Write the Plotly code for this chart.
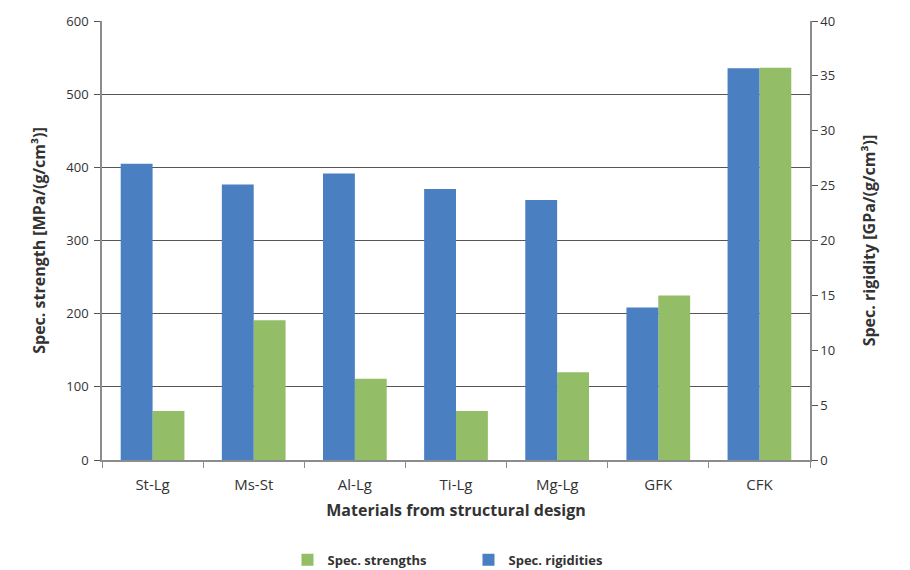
import plotly.graph_objects as go

categories = ["St-Lg", "Ms-St", "Al-Lg", "Ti-Lg", "Mg-Lg", "GFK", "CFK"]
spec_strengths = [67, 191, 111, 67, 120, 225, 536]      # MPa/(g/cm³), left axis
spec_rigidities = [27.0, 25.1, 26.1, 24.7, 23.7, 13.9, 35.7]  # GPa/(g/cm³), right axis

FONT = "Open Sans"
TXT = "#333333"
AX = "#8c8c8c"

fig = go.Figure()
fig.add_trace(go.Bar(
    x=categories, y=spec_rigidities, name="<b>Spec. rigidities</b>",
    marker=dict(color="#4A7FC1", line=dict(width=0)),
    yaxis="y2", offsetgroup="b", legendrank=2,
))
fig.add_trace(go.Bar(
    x=categories, y=spec_strengths, name="<b>Spec. strengths</b>",
    marker=dict(color="#93BE67", line=dict(width=0)),
    yaxis="y", offsetgroup="g", legendrank=1,
))

fig.update_layout(
    width=910, height=570,
    margin=dict(l=102, r=100, t=21, b=110, autoexpand=False),
    paper_bgcolor="white", plot_bgcolor="white",
    barmode="group", bargap=0.37, bargroupgap=0,
    font=dict(family=FONT, color=TXT, size=13),
    xaxis=dict(
        showline=True, linecolor=AX, linewidth=1.5,
        ticks="outside", tickson="boundaries", ticklen=6, tickcolor=AX,
        tickfont=dict(size=15, color=TXT), ticklabelstandoff=10,
        title=dict(text="<b>Materials from structural design</b>", font=dict(size=16, color=TXT), standoff=12),
    ),
    yaxis=dict(
        range=[0, 600], dtick=100,
        showline=True, linecolor=AX, linewidth=1.5,
        ticks="outside", ticklen=6, tickcolor="#555",
        showgrid=True, gridcolor="#555555", gridwidth=1,
        zeroline=False, ticklabelstandoff=3,
        tickfont=dict(size=13, color=TXT),
        title=dict(text="<b>Spec. strength [MPa/(g/cm³)]</b>", font=dict(size=16, color=TXT), standoff=17),
    ),
    yaxis2=dict(
        range=[0, 40], dtick=5, overlaying="y", side="right",
        showline=True, linecolor=AX, linewidth=1.5,
        ticks="outside", ticklen=6, tickcolor="#555",
        showgrid=False, zeroline=False,
        tickfont=dict(size=13, color=TXT),
        title=dict(text="<b>Spec. rigidity [GPa/(g/cm³)]</b>", font=dict(size=16, color=TXT), standoff=30),
    ),
    legend=dict(
        orientation="h", x=0.262, xanchor="left",
        yref="container", y=0.018, yanchor="middle",
        font=dict(size=13, color=TXT), traceorder="normal",
        itemwidth=30, entrywidth=136,
    ),
)

fig.write_html("out.html")
